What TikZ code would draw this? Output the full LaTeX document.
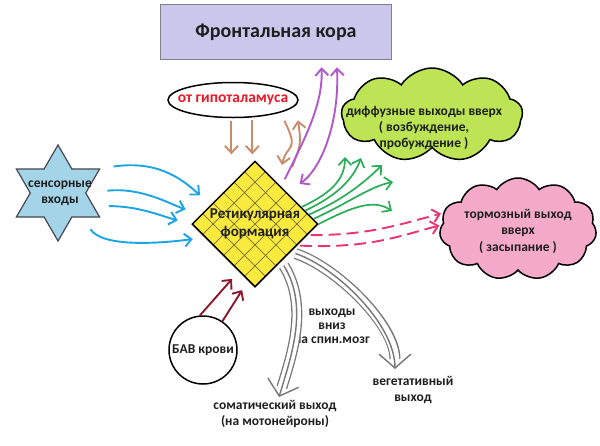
\documentclass[tikz,border=0pt]{standalone}
\usepackage{fontspec}
\setmainfont{Carlito}
\usetikzlibrary{arrows.meta,shapes.geometric,shapes.symbols,calc}
\definecolor{lavender}{RGB}{203,199,236}
\definecolor{slate}{RGB}{128,128,140}
\definecolor{hypred}{RGB}{232,24,36}
\definecolor{skyblue}{RGB}{28,164,228}
\definecolor{starblue}{RGB}{164,212,232}
\definecolor{starline}{RGB}{70,70,80}
\definecolor{retyellow}{RGB}{250,234,62}
\definecolor{retgrid}{RGB}{120,110,45}
\definecolor{copper}{RGB}{200,140,108}
\definecolor{orchid}{RGB}{176,88,204}
\definecolor{leafgreen}{RGB}{42,172,88}
\definecolor{cloudlime}{RGB}{188,228,84}
\definecolor{cloudpink}{RGB}{246,170,202}
\definecolor{rose}{RGB}{234,52,112}
\definecolor{cablegray}{RGB}{118,118,118}
\definecolor{maroonred}{RGB}{140,22,42}
\definecolor{ink}{RGB}{30,30,30}

\begin{document}
\begin{tikzpicture}[x=1pt, y=-1pt, text=ink, font=\bfseries\fontsize{13.5}{15.5}\selectfont,
    flow/.style={line width=1.9pt, -{Straight Barb[length=7pt,width=13pt]}},
    sensin/.style={flow, draw=skyblue},
    hypo/.style={flow, draw=copper},
    cortex/.style={flow, draw=orchid},
    diffuse/.style={flow, draw=leafgreen, line width=1.7pt},
    inhib/.style={flow, draw=rose, dash pattern=on 12pt off 6pt},
    blood/.style={flow, draw=maroonred},
    outcable/.style={draw=none,
        preaction={draw=cablegray, line width=11pt, shorten <=5pt, shorten >=10pt},
        preaction={draw=white, line width=8.4pt, shorten <=5pt, shorten >=9pt},
        postaction={draw=cablegray, line width=1.4pt, shorten <=5pt,
            -{Straight Barb[length=14pt,width=32pt]}}},
    puffy/.style={cloud, cloud puff arc=115, draw=black, line width=1.5pt, inner sep=0}]
    \useasboundingbox (0,0) rectangle (600,445);

    % nodes
    \node[draw=slate, fill=lavender, line width=1.5pt, minimum width=231pt, minimum height=55pt]
        (fk) at (276,32) {\fontsize{20}{22}\selectfont Фронтальная кора};
    \node[ellipse, draw=black, fill=white, line width=1.5pt, minimum width=130pt, minimum height=35pt,
        label={[text=hypred, font=\bfseries\fontsize{15.5}{17}\selectfont]center:от гипоталамуса}] (hyp) at (233,100) {};
    \node[star, star points=6, star point ratio=1.73, draw=starline, fill=starblue, line width=1.2pt,
        minimum size=96pt, inner sep=0, label={[align=center, xshift=2pt]center:сенсорные\\входы}] (sens) at (58,193) {};
    \node[diamond, aspect=1, draw=black, fill=retyellow, line width=1.5pt, minimum size=126pt, inner sep=0,
        path picture={
            \foreach \k in {1,...,5} {
                \draw[retgrid, line width=0.7pt]
                    ($(path picture bounding box.west)!\k/6!(path picture bounding box.north)$) --
                    ($(path picture bounding box.south)!\k/6!(path picture bounding box.east)$);
                \draw[retgrid, line width=0.7pt]
                    ($(path picture bounding box.west)!\k/6!(path picture bounding box.south)$) --
                    ($(path picture bounding box.north)!\k/6!(path picture bounding box.east)$);
            }},
        label={[align=center, font=\bfseries\fontsize{15}{18}\selectfont]center:Ретикулярная\\формация}] (rf) at (255,224) {};
    \node[puffy, cloud puffs=9, fill=cloudlime, minimum width=181pt, minimum height=94pt,
        label={[align=center, xshift=-8pt, yshift=-13pt, font=\bfseries\fontsize{13.5}{16}\selectfont]center:{диффузные выходы вверх\\( возбуждение,\\пробуждение )}}] (diff) at (432,115) {};
    \node[puffy, cloud puffs=11, fill=cloudpink, minimum width=157pt, minimum height=102pt,
        label={[align=center, yshift=-2pt, font=\bfseries\fontsize{13.5}{16.5}\selectfont]center:{тормозный выход\\вверх\\( засыпание )}}] (tor) at (518,229) {};
    \node[circle, draw=black, fill=white, line width=1.5pt, minimum size=68pt, inner sep=0] (bav) at (203,350) {БАВ крови};
    \node[align=center, font=\bfseries\fontsize{13.5}{14}\selectfont] (dn) at (332,326) {выходы\\вниз\\на спин.мозг};
    \node[align=center] (somat) at (275,414) {соматический выход\\(на мотонейроны)};
    \node[align=center] (veget) at (413,390) {вегетативный\\выход};

    \coordinate (g1) at (345,157);
    \coordinate (g2) at (361,158);
    \coordinate (g3) at (382,165);
    \coordinate (g4) at (393,182);
    \coordinate (g5) at (392,211);
    \coordinate (somtip) at (279,397);
    \coordinate (vegtip) at (395,369);

    % sensory inputs
    \draw[sensin, shorten <=13pt, shorten >=14pt] (sens.30) .. controls +(55,-8) and +(-30,-28) .. (rf.157);
    \draw[sensin, shorten <=21pt, shorten >=16pt] (sens.0) .. controls +(55,-6) and +(-30,-10) .. (rf.170);
    \draw[sensin, shorten <=15pt, shorten >=14pt] (sens.-20) .. controls +(45,0) and +(-30,-8) .. (rf.180);
    \draw[sensin, shorten <=14pt, shorten >=12pt] (sens.-45) .. controls +(20,30) and +(-45,6) .. (rf.195);

    % hypothalamus
    \draw[hypo, shorten <=3pt, shorten >=6pt] (hyp.-95) -- (hyp.-95 |- rf.north);
    \draw[hypo, shorten <=3pt, shorten >=6pt] (hyp.-42) -- (hyp.-42 |- rf.north);
    \draw[hypo, shorten <=9pt, shorten >=19pt] (hyp.-15) .. controls +(20,40) and +(8,-40) .. (rf.60);
    \draw[hypo, shorten <=24pt, shorten >=15pt] (rf.50) .. controls +(16,-44) and +(6,40) .. (hyp.-5);

    % cortex
    \draw[cortex, shorten <=8pt, shorten >=7pt] (rf.55) .. controls +(22,-45) and +(2,45) .. (fk.-32);
    \draw[cortex, {Straight Barb[length=7pt,width=13pt]}-{Straight Barb[length=7pt,width=13pt]},
        shorten <=15pt, shorten >=7pt] (rf.44) .. controls +(35,-25) and +(3,60) .. (fk.-25);

    % diffuse up
    \draw[diffuse] (rf.20) .. controls +(25,-12) and +(0,25) .. (g1);
    \draw[diffuse] (rf.15) .. controls +(30,-14) and +(-8,22) .. (g2);
    \draw[diffuse] (rf.10) .. controls +(35,-15) and +(-16,16) .. (g3);
    \draw[diffuse] (rf.5) .. controls +(35,-16) and +(-22,4) .. (g4);
    \draw[diffuse] (rf.0) .. controls +(35,-18) and +(-18,-12) .. (g5);

    % inhibitory up
    \draw[inhib, shorten <=3pt, shorten >=2pt] (rf.-12) .. controls +(60,0) and +(-45,12) .. (tor.168);
    \draw[inhib, shorten <=3pt, shorten >=2pt] (rf.-27) .. controls +(70,3) and +(-45,12) .. (tor.177);

    % blood
    \draw[blood, shorten >=10pt] (bav.95) -- (rf.-109);
    \draw[blood, shorten >=11pt] (bav.56) -- (rf.-97);

    % down to spinal cord
    \draw[outcable] (rf.-55) .. controls +(28,45) and +(12,-40) .. (somtip);
    \draw[outcable] (rf.-38) .. controls +(45,15) and +(0,-45) .. (vegtip);
\end{tikzpicture}
\end{document}
